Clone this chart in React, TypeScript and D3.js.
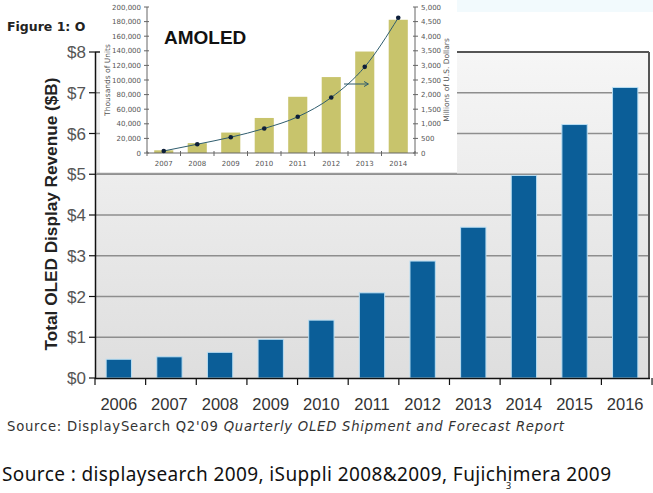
import * as d3 from "d3";

// main chart: total OLED display revenue ($B)
const years = ["2006", "2007", "2008", "2009", "2010", "2011", "2012", "2013", "2014", "2015", "2016"];
const revenue = [0.46, 0.52, 0.63, 0.95, 1.42, 2.09, 2.87, 3.7, 4.97, 6.22, 7.13];
const revenueTicks = [0, 1, 2, 3, 4, 5, 6, 7, 8];

// inset: AMOLED units (thousands) and revenue (millions of US$)
const insetYears = ["2007", "2008", "2009", "2010", "2011", "2012", "2013", "2014"];
const insetUnits = [3700, 13500, 28000, 48000, 77000, 104000, 139000, 182500];
const insetDollars = [70, 300, 540, 840, 1240, 1900, 2950, 4630];
const unitTicks = d3.range(0, 200001, 20000);
const dollarTicks = d3.range(0, 5001, 500);

const fmt = d3.format(",");

export default function App() {
  const W = 653;
  const H = 493;

  const x = d3.scaleBand<string>().domain(years).range([95, 649]).paddingInner(0.5).paddingOuter(0.22);
  const y = d3.scaleLinear().domain([0, 8]).range([378, 52]);

  const ix = d3.scaleBand<string>().domain(insetYears).range([147, 415]).paddingInner(0.43).paddingOuter(0.215);
  const iyL = d3.scaleLinear().domain([0, 200000]).range([153, 7]);
  const iyR = d3.scaleLinear().domain([0, 5000]).range([153, 7]);

  const line = d3
    .line<number>()
    .x((_, i) => (ix(insetYears[i]) as number) + ix.bandwidth() / 2)
    .y((d) => iyR(d))
    .curve(d3.curveMonotoneX);

  const step = x.step();
  const x0 = 95;
  const istep = ix.step();

  return (
    <svg width={W} height={H} style={{ position: "absolute", left: 0, top: 0, background: "white" }}>
      <defs>
        <linearGradient id="plotbg" x1="0" y1="0" x2="0" y2="1">
          <stop offset="0%" stopColor="#f6f6f6" />
          <stop offset="100%" stopColor="#dedede" />
        </linearGradient>
      </defs>

      {/* faint watermark top right */}
      <rect x={455} y={0} width={198} height={12} fill="#f2fafd" />

      {/* main plot */}
      <rect x={95} y={52} width={554} height={326} fill="url(#plotbg)" />
      {revenueTicks.slice(1, -1).map((t) => (
        <line key={t} x1={95} x2={649} y1={y(t)} y2={y(t)} stroke="#8e8e8e" strokeWidth={1.5} />
      ))}
      <line x1={95} x2={649} y1={y(8)} y2={y(8)} stroke="#555" strokeWidth={2} />
      <line x1={649} x2={649} y1={y(8)} y2={378} stroke="#555" strokeWidth={2} />

      {revenue.map((v, i) => (
        <rect
          key={years[i]}
          x={x(years[i])}
          y={y(v)}
          width={x.bandwidth()}
          height={y(0) - y(v)}
          fill="#0b5e98"
          stroke="#b9def3"
          strokeWidth={1}
        />
      ))}

      {/* axes */}
      <line x1={95.5} x2={95.5} y1={y(8)} y2={379} stroke="#111" strokeWidth={1.5} />
      <line x1={95} x2={650} y1={378.5} y2={378.5} stroke="#111" strokeWidth={1.5} />
      {revenueTicks.map((t) => (
        <g key={t}>
          <line x1={89} x2={95} y1={y(t)} y2={y(t)} stroke="#111" strokeWidth={1.2} />
          <text x={86} y={y(t) + 6} textAnchor="end" fontFamily="Liberation Sans, Arial, sans-serif" fontSize={17} fill="#555">
            {`$${t}`}
          </text>
        </g>
      ))}
      {d3.range(years.length + 1).map((i) => (
        <line key={i} x1={x0 + i * step} x2={x0 + i * step} y1={378} y2={385} stroke="#111" strokeWidth={1.2} />
      ))}
      {years.map((yr) => (
        <text
          key={yr}
          x={(x(yr) as number) + x.bandwidth() / 2}
          y={410}
          textAnchor="middle"
          fontFamily="Liberation Sans, Arial, sans-serif"
          fontSize={16.5}
          fill="#333"
        >
          {yr}
        </text>
      ))}
      <text
        transform="translate(57,214) rotate(-90)"
        textAnchor="middle"
        fontFamily="Liberation Sans, Arial, sans-serif"
        fontWeight="bold"
        fontSize={17.2}
        fill="#222"
      >
        Total OLED Display Revenue ($B)
      </text>

      <text x={7} y={31} fontFamily="DejaVu Sans, sans-serif" fontWeight="bold" fontSize={12.5} fill="#222">
        Figure 1: O
      </text>

      {/* inset */}
      <rect x={100} y={0} width={357} height={173} fill="white" />
      <line x1={96} x2={457} y1={173.5} y2={173.5} stroke="#9a9a9a" strokeWidth={1.5} />
      {insetUnits.map((v, i) => (
        <rect
          key={insetYears[i]}
          x={ix(insetYears[i])}
          y={iyL(v)}
          width={ix.bandwidth()}
          height={iyL(0) - iyL(v)}
          fill="#c8c46c"
        />
      ))}
      <line x1={147} x2={147} y1={7} y2={153} stroke="#666" strokeWidth={1} />
      <line x1={415} x2={415} y1={7} y2={153} stroke="#666" strokeWidth={1} />
      <line x1={147} x2={415} y1={153} y2={153} stroke="#666" strokeWidth={1} />
      {unitTicks.map((t) => (
        <g key={t}>
          <line x1={144} x2={149} y1={iyL(t)} y2={iyL(t)} stroke="#666" />
          <text x={141} y={iyL(t) + 2.5} textAnchor="end" fontFamily="DejaVu Sans, sans-serif" fontSize={7} fill="#555">
            {fmt(t)}
          </text>
        </g>
      ))}
      {dollarTicks.map((t) => (
        <g key={t}>
          <line x1={413} x2={418} y1={iyR(t)} y2={iyR(t)} stroke="#666" />
          <text x={421} y={iyR(t) + 2.5} fontFamily="DejaVu Sans, sans-serif" fontSize={7} fill="#555">
            {fmt(t)}
          </text>
        </g>
      ))}
      {d3.range(insetYears.length + 1).map((i) => (
        <line key={i} x1={147 + i * istep} x2={147 + i * istep} y1={151} y2={156} stroke="#666" />
      ))}
      {insetYears.map((yr) => (
        <text
          key={yr}
          x={(ix(yr) as number) + ix.bandwidth() / 2}
          y={166}
          textAnchor="middle"
          fontFamily="DejaVu Sans, sans-serif"
          fontSize={7}
          fill="#555"
        >
          {yr}
        </text>
      ))}
      <text transform="translate(110,80) rotate(-90)" textAnchor="middle" fontFamily="DejaVu Sans, sans-serif" fontSize={7.5} fill="#555">
        Thousands of Units
      </text>
      <text transform="translate(449,80) rotate(-90)" textAnchor="middle" fontFamily="DejaVu Sans, sans-serif" fontSize={7.5} fill="#555">
        Millions of U.S. Dollars
      </text>
      <path d={line(insetDollars) ?? ""} fill="none" stroke="#2f5d6e" strokeWidth={1} />
      {insetDollars.map((v, i) => (
        <circle
          key={insetYears[i]}
          cx={(ix(insetYears[i]) as number) + ix.bandwidth() / 2}
          cy={iyR(v)}
          r={2.3}
          fill="#0d1f3a"
        />
      ))}
      <line x1={344} x2={368} y1={84} y2={84} stroke="#2f5d6e" strokeWidth={1} />
      <path d="M364,81.5 L368.5,84 L364,86.5" fill="none" stroke="#2f5d6e" strokeWidth={1} />
      <text x={164} y={44} fontFamily="Liberation Sans, Arial, sans-serif" fontWeight="bold" fontSize={19} fill="#111">
        AMOLED
      </text>

      {/* sources */}
      <text x={7} y={431} fontFamily="DejaVu Sans, sans-serif" fontSize={13.2} fill="#333" textLength={557} lengthAdjust="spacing">
        Source: DisplaySearch Q2'09 <tspan fontStyle="italic">Quarterly OLED Shipment and Forecast Report</tspan>
      </text>
      <text x={2} y={481} fontFamily="Noto Sans, sans-serif" fontSize={19} fill="#111" textLength={609} lengthAdjust="spacing">
        Source : displaysearch 2009, iSuppli 2008&amp;2009, Fujichimera 2009
      </text>
      <text x={506} y={489} fontFamily="Noto Sans, sans-serif" fontSize={9} fill="#111">
        3
      </text>
    </svg>
  );
}
